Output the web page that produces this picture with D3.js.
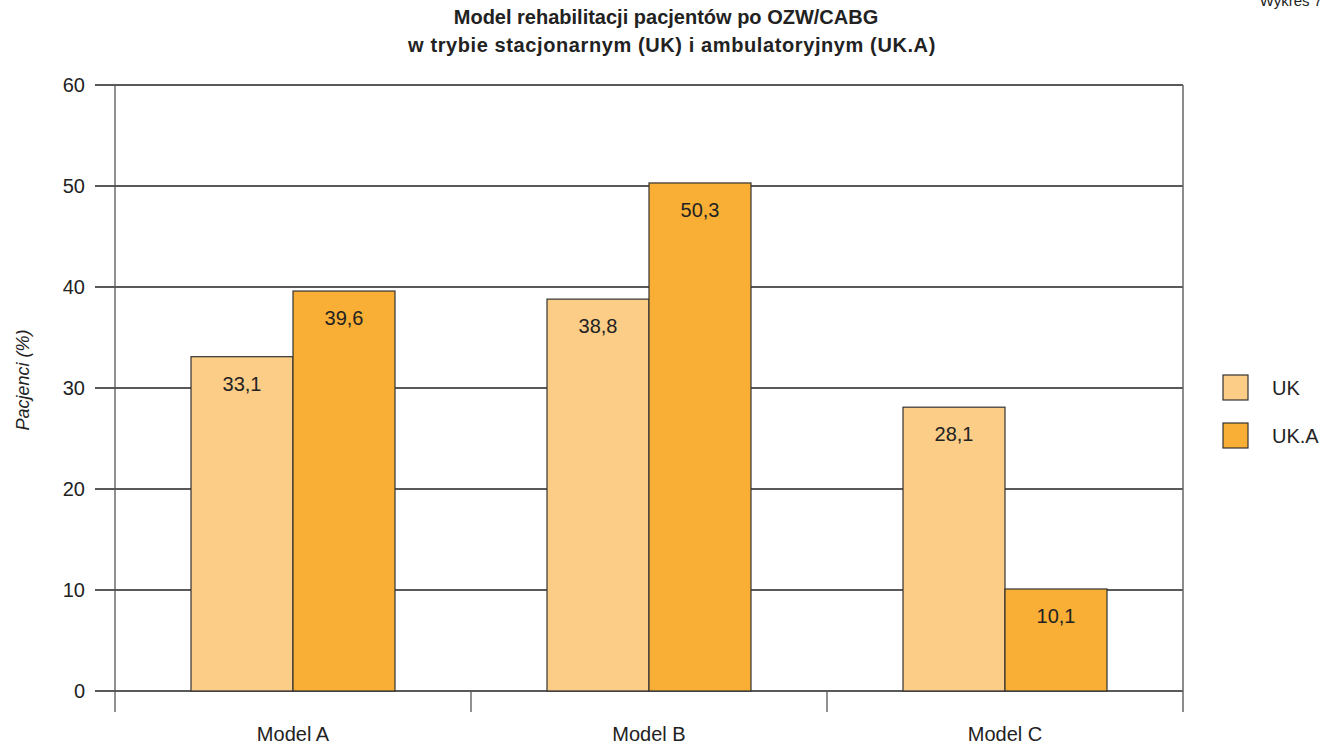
<!DOCTYPE html>
<html>
<head>
<meta charset="utf-8">
<script src="https://cdn.jsdelivr.net/npm/d3@7"></script>
<style>
  html, body { margin: 0; padding: 0; background: #fff; }
  svg { display: block; font-family: "Liberation Sans", Arial, sans-serif; }
</style>
</head>
<body>
<svg id="chart" width="1324" height="745"></svg>
<script>
// Data
const categories = ["Model A", "Model B", "Model C"];
const seriesNames = ["UK", "UK.A"];
const ukValues = [33.1, 38.8, 28.1];
const ukaValues = [39.6, 50.3, 10.1];
const yTicks = [0, 10, 20, 30, 40, 50, 60];
const seriesColors = ["#FCCD87", "#F9AF35"];

const rows = categories.map((c, i) => ({ category: c, values: [ukValues[i], ukaValues[i]] }));

const svg = d3.select("#chart");
const margin = { left: 115, right: 1183, top: 85, bottom: 691 };

const x = d3.scaleBand().domain(categories).range([margin.left, margin.right]).paddingInner(0).paddingOuter(0);
const y = d3.scaleLinear().domain([0, 60]).range([margin.bottom, margin.top]);
const groupWidth = 204;
const xSeries = d3.scaleBand().domain(seriesNames).range([0, groupWidth]).padding(0);

// Horizontal gridlines with outward ticks on the left
svg.append("g").selectAll("line").data(yTicks).join("line")
  .attr("x1", margin.left - 20).attr("x2", margin.right)
  .attr("y1", d => y(d)).attr("y2", d => y(d))
  .attr("stroke", "#222").attr("stroke-width", 1.3);

// Y tick labels
svg.append("g").selectAll("text").data(yTicks).join("text")
  .attr("x", 85).attr("y", d => y(d)).attr("dy", "0.35em")
  .attr("text-anchor", "end").attr("font-size", 20).attr("fill", "#222")
  .text(d => d);

// Bars
const groups = svg.append("g").selectAll("g").data(rows).join("g")
  .attr("transform", d => `translate(${x(d.category) + x.bandwidth() / 2 - groupWidth / 2},0)`);

groups.selectAll("rect").data(d => d.values.map((v, i) => ({ v, s: seriesNames[i], i }))).join("rect")
  .attr("x", d => xSeries(d.s)).attr("width", xSeries.bandwidth())
  .attr("y", d => y(d.v)).attr("height", d => y(0) - y(d.v))
  .attr("fill", d => seriesColors[d.i]).attr("stroke", "#333").attr("stroke-width", 1.2);

groups.selectAll("text").data(d => d.values.map((v, i) => ({ v, s: seriesNames[i], i }))).join("text")
  .attr("x", d => xSeries(d.s) + xSeries.bandwidth() / 2)
  .attr("y", d => y(d.v) + 27).attr("dy", "0.35em")
  .attr("text-anchor", "middle").attr("font-size", 20).attr("fill", "#222")
  .text(d => d3.format(".1f")(d.v).replace(".", ","));

// Left axis line and right frame line
svg.append("line").attr("x1", margin.left).attr("x2", margin.left)
  .attr("y1", margin.top).attr("y2", margin.bottom + 21)
  .attr("stroke", "#555").attr("stroke-width", 1.3);
svg.append("line").attr("x1", margin.right).attr("x2", margin.right)
  .attr("y1", margin.top).attr("y2", margin.bottom + 21)
  .attr("stroke", "#666").attr("stroke-width", 1.5);

// Category separators below the baseline
const seps = categories.slice(1).map(c => x(c));
svg.append("g").selectAll("line").data(seps).join("line")
  .attr("x1", d => d).attr("x2", d => d)
  .attr("y1", margin.bottom).attr("y2", margin.bottom + 21)
  .attr("stroke", "#555").attr("stroke-width", 1.3);

// Category labels
svg.append("g").selectAll("text").data(categories).join("text")
  .attr("x", d => x(d) + x.bandwidth() / 2).attr("y", 734).attr("dy", "0.35em")
  .attr("text-anchor", "middle").attr("font-size", 20).attr("fill", "#222")
  .text(d => d);

// Y axis title
svg.append("text")
  .attr("transform", "translate(23,380) rotate(-90)")
  .attr("text-anchor", "middle").attr("dy", "0.35em").attr("font-size", 18)
  .attr("font-style", "italic").attr("fill", "#222")
  .text("Pacjenci (%)");

// Title
const title = svg.append("text").attr("text-anchor", "middle").attr("font-size", 20)
  .attr("font-weight", "bold").attr("fill", "#222");
title.append("tspan").attr("x", 666).attr("y", 24).text("Model rehabilitacji pacjentów po OZW/CABG");
title.append("tspan").attr("x", 672).attr("y", 52).attr("letter-spacing", 0.6)
  .text("w trybie stacjonarnym (UK) i ambulatoryjnym (UK.A)");

// Page label
svg.append("text").attr("x", 1322).attr("y", 6).attr("text-anchor", "end")
  .attr("font-size", 15).attr("fill", "#222").text("Wykres 7");

// Legend
const legend = svg.append("g").selectAll("g").data(seriesNames).join("g")
  .attr("transform", (d, i) => `translate(1223,${375 + i * 48})`);
legend.append("rect").attr("width", 25).attr("height", 25)
  .attr("fill", (d, i) => seriesColors[i]).attr("stroke", "#333").attr("stroke-width", 1.2);
legend.append("text").attr("x", 49).attr("y", 12.5).attr("dy", "0.35em")
  .attr("font-size", 20).attr("fill", "#222").text(d => d);
</script>
</body>
</html>
